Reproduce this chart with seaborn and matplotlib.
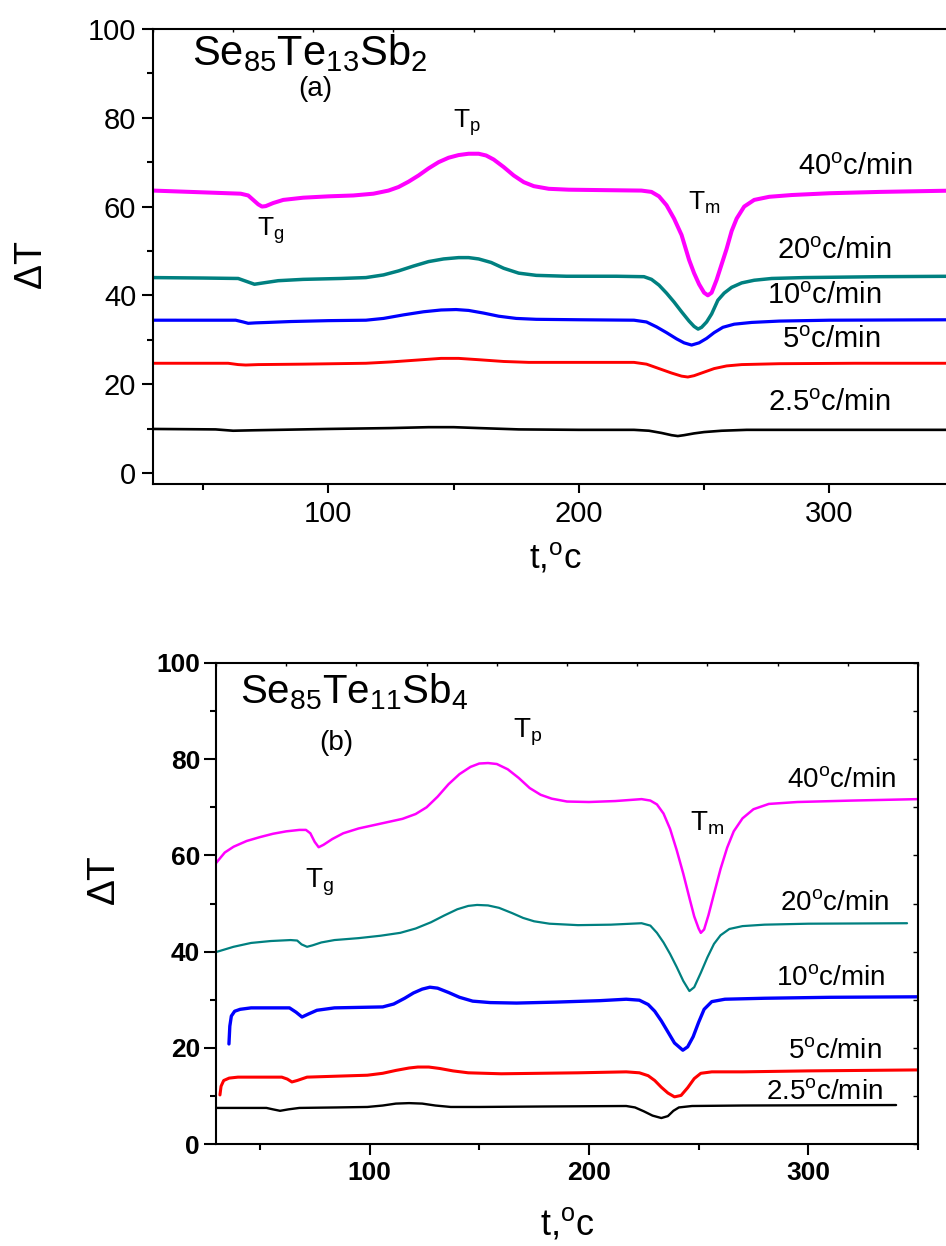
import numpy as np
import pandas as pd
import matplotlib
matplotlib.use("Agg")
import matplotlib.pyplot as plt
import seaborn as sns

# ---------------- data: panel (a) Se85Te13Sb2 ----------------
a40_t = [30, 50, 65, 68, 70, 72, 73.5, 75, 78, 82, 90, 100, 110, 118, 124, 128, 132, 136, 140, 144,
         148, 152, 156, 160, 163, 166, 170, 174, 178, 182, 188, 196, 210, 225, 229, 232, 235, 238, 241, 244,
         246, 248, 250, 251.5, 253, 255, 257, 259, 261, 263, 266, 270, 276, 285, 300, 320, 350]
a40_v = [63.6, 63.2, 62.9, 62.5, 61.5, 60.5, 60.0, 60.1, 60.8, 61.5, 62.0, 62.3, 62.5, 62.9, 63.6, 64.4, 65.6, 67.0, 68.6, 70.0,
         71.0, 71.6, 71.9, 71.9, 71.5, 70.6, 68.9, 67.0, 65.5, 64.6, 64.0, 63.8, 63.7, 63.6, 63.3, 62.3, 60.3, 57.3, 53.6, 48.0,
         45.0, 42.5, 40.6, 40.0, 40.6, 43.5, 47.0, 50.5, 54.5, 57.3, 60.0, 61.5, 62.2, 62.6, 63.0, 63.3, 63.6]
a20_t = [30, 50, 64, 67, 70.5, 74, 80, 90, 105, 115, 122, 128, 134, 140, 146, 152, 156, 160, 165, 170,
         176, 183, 195, 215, 226, 229, 232, 235, 238, 241, 244, 246, 247.6, 249, 251, 253, 255.5, 258, 261, 265,
         270, 277, 290, 320, 350]
a20_v = [44.0, 43.9, 43.8, 43.2, 42.5, 42.8, 43.3, 43.6, 43.8, 44.0, 44.6, 45.5, 46.6, 47.6, 48.2, 48.5, 48.5, 48.2, 47.4, 46.1,
         45.0, 44.5, 44.3, 44.3, 44.2, 43.6, 42.3, 40.5, 38.5, 36.3, 34.2, 33.0, 32.4, 32.8, 34.0, 35.8, 38.9, 40.5, 41.8, 42.8,
         43.4, 43.8, 44.0, 44.2, 44.3]
a10_t = [30, 50, 63, 66, 68, 71, 76, 85, 100, 115, 122, 130, 138, 145, 151, 156, 162, 168, 175, 183,
         200, 222, 227, 231, 235, 239, 242, 245, 248, 251, 254, 257.5, 262, 269, 280, 300, 350]
a10_v = [34.4, 34.4, 34.4, 34.0, 33.7, 33.8, 33.9, 34.1, 34.3, 34.4, 34.8, 35.6, 36.3, 36.7, 36.8, 36.6, 36.0, 35.3, 34.8, 34.6,
         34.5, 34.4, 34.0, 32.9, 31.6, 30.2, 29.3, 28.8, 29.3, 30.3, 31.6, 32.8, 33.5, 33.9, 34.2, 34.4, 34.5]
a5_t = [30, 60, 64, 67, 72, 90, 115, 125, 135, 145, 152, 160, 170, 180, 200, 222, 227, 232, 237, 241,
        243.5, 246, 250, 254, 259, 265, 280, 310, 350]
a5_v = [24.7, 24.7, 24.4, 24.3, 24.4, 24.5, 24.7, 25.0, 25.4, 25.8, 25.8, 25.5, 25.1, 24.9, 24.9, 24.9, 24.5, 23.5, 22.5, 21.8,
        21.6, 21.9, 22.7, 23.5, 24.1, 24.4, 24.6, 24.7, 24.7]
a25_t = [30, 55, 62, 70, 100, 125, 140, 150, 160, 176, 200, 222, 228, 233, 237, 239.5, 242, 246, 250, 257,
         267, 290, 350]
a25_v = [9.9, 9.8, 9.5, 9.6, 9.9, 10.1, 10.3, 10.3, 10.1, 9.8, 9.7, 9.7, 9.5, 9.0, 8.5, 8.3, 8.5, 8.9, 9.2, 9.5,
         9.7, 9.7, 9.7]

# ---------------- data: panel (b) Se85Te11Sb4 ----------------
b40_t = [30, 34, 38, 44, 50, 56, 62, 68, 71, 73, 75, 76.8, 79, 83, 88, 95, 106, 115, 121, 126,
         131, 136, 141, 146, 150, 154, 158, 163, 168, 173, 178, 183, 190, 200, 212, 224, 228, 231, 234, 237,
         240, 243, 246, 248, 250, 251, 252.5, 254.5, 257, 260, 263, 266, 270, 275, 282, 295, 320, 350]
b40_v = [58.4, 60.6, 61.8, 63.0, 63.8, 64.5, 65.0, 65.3, 65.3, 64.6, 62.8, 61.7, 62.2, 63.4, 64.6, 65.6, 66.7, 67.6, 68.6, 70.0,
         72.2, 74.8, 76.9, 78.4, 79.1, 79.2, 79.0, 77.9, 76.1, 74.0, 72.6, 71.8, 71.2, 71.1, 71.3, 71.7, 71.4, 70.6, 68.7, 65.5,
         61.1, 56.2, 50.8, 47.3, 44.8, 43.9, 44.6, 47.6, 52.0, 57.2, 61.6, 65.0, 67.7, 69.6, 70.7, 71.1, 71.4, 71.7]
b20_t = [30, 38, 46, 55, 64, 67, 69, 71.5, 74, 78, 84, 95, 105, 114, 121, 128, 134, 140, 145, 149,
         154, 159, 165, 170, 175, 182, 195, 210, 224, 228, 231, 234, 237, 240, 243, 245.8, 248, 251, 254, 257,
         260, 264, 270, 280, 300, 345]
b20_v = [39.9, 41.0, 41.8, 42.2, 42.4, 42.3, 41.5, 41.0, 41.3, 41.9, 42.4, 42.8, 43.3, 43.9, 44.8, 46.1, 47.5, 48.8, 49.5, 49.7,
         49.6, 49.1, 48.0, 47.0, 46.3, 45.8, 45.5, 45.6, 45.9, 45.4, 43.9, 41.9, 39.5, 36.8, 33.9, 31.8, 32.6, 35.6, 38.8, 41.6,
         43.4, 44.7, 45.3, 45.6, 45.8, 45.9]
b10_t = [35.9, 36.3, 37, 38.5, 41, 46, 55, 63.5, 66.5, 69.2, 72, 76, 84, 95, 106, 111, 116, 120, 124, 127.5,
         131, 136, 141, 147, 155, 167, 185, 205, 217, 223, 227, 230, 233, 236, 239, 242.8, 245, 247.5, 250, 252.5,
         256, 262, 280, 310, 349.5]
b10_v = [20.8, 24.5, 26.6, 27.6, 28.0, 28.3, 28.3, 28.3, 27.4, 26.4, 27.0, 27.8, 28.3, 28.4, 28.5, 29.1, 30.3, 31.4, 32.2, 32.6,
         32.4, 31.5, 30.5, 29.7, 29.4, 29.3, 29.5, 29.8, 30.1, 29.9, 29.0, 27.6, 25.6, 23.3, 21.0, 19.5, 20.2, 22.3, 25.3, 28.0,
         29.6, 30.1, 30.3, 30.5, 30.6]
b5_t = [31.8, 32.3, 33.5, 36, 40, 50, 60, 62.5, 64.6, 67, 71.5, 85, 99, 106, 112, 118, 122, 127, 132, 138,
        145, 160, 195, 217, 223, 227, 230, 233, 236, 239, 242, 245, 248, 251, 256, 270, 300, 349.5]
b5_v = [10.2, 12.0, 13.2, 13.7, 13.9, 13.9, 13.9, 13.5, 12.9, 13.2, 13.9, 14.1, 14.3, 14.7, 15.3, 15.8, 16.0, 16.0, 15.7, 15.2,
        14.8, 14.6, 14.8, 15.0, 14.8, 14.2, 13.2, 11.8, 10.6, 9.8, 10.1, 11.7, 13.6, 14.7, 15.0, 15.0, 15.2, 15.4]
b25_t = [30, 45, 53, 56, 59.2, 63, 68, 85, 99, 106, 112, 118, 124, 130, 137, 150, 180, 217, 221, 225,
         229, 233, 236, 238.5, 241, 247, 270, 340]
b25_v = [7.5, 7.5, 7.5, 7.2, 6.9, 7.2, 7.5, 7.6, 7.7, 8.0, 8.4, 8.5, 8.4, 8.0, 7.7, 7.7, 7.8, 7.9, 7.6, 6.8,
         5.9, 5.4, 5.8, 6.9, 7.6, 7.9, 8.0, 8.1]

rates = ["40", "20", "10", "5", "2.5"]
colors = ["#FF00FF", "#008080", "#0000FF", "#FF0000", "#000000"]
xticks_major = [100, 200, 300]
xticks_minor = [50, 150, 250, 350]
yticks_major = [0, 20, 40, 60, 80, 100]
yticks_minor = [10, 30, 50, 70, 90]

# ---------------- style ----------------
sns.set_style("ticks")
plt.rcParams["font.family"] = ["Liberation Sans", "DejaVu Sans"]
plt.rcParams["mathtext.fontset"] = "custom"
plt.rcParams["mathtext.rm"] = "Liberation Sans"
plt.rcParams["mathtext.it"] = "Liberation Sans:italic"
plt.rcParams["mathtext.bf"] = "Liberation Sans:bold"
plt.rcParams["text.color"] = "black"
plt.rcParams["axes.labelcolor"] = "black"
plt.rcParams["xtick.color"] = "black"
plt.rcParams["ytick.color"] = "black"
plt.rcParams["axes.edgecolor"] = "black"
plt.rcParams["lines.solid_joinstyle"] = "round"

fig = plt.figure(figsize=(9.46, 12.46), dpi=100)


def rate_label(r):
    return r + r"$^{\mathregular{o}}$c/min"


def draw_panel(ax, series, widths):
    for (t, v), c, lw in zip(series, colors, widths):
        df = pd.DataFrame({"t": t, "v": v})
        sns.lineplot(data=df, x="t", y="v", color=c, linewidth=lw, ax=ax,
                     sort=False, estimator=None)
    ax.set_xlim(30, 350)
    ax.set_xticks(xticks_major)
    ax.set_xticks(xticks_minor, minor=True)
    ax.set_yticks(yticks_major)
    ax.set_yticks(yticks_minor, minor=True)
    for s in ax.spines.values():
        s.set_linewidth(1.5)
        s.set_color("black")
    ax.tick_params(which="both", direction="out", width=1.5, color="black",
                   labelcolor="black")


# ---------------- panel (a) ----------------
axa = fig.add_axes([153 / 946, 1 - 484 / 1246, 801.6 / 946, 455 / 1246])
draw_panel(axa,
           [(a40_t, a40_v), (a20_t, a20_v), (a10_t, a10_v), (a5_t, a5_v), (a25_t, a25_v)],
           [2.9, 2.5, 2.3, 2.1, 1.9])
axa.set_ylim(-2.5, 100)
axa.tick_params(axis="x", which="major", length=6.5, pad=5, labelsize=21)
axa.tick_params(axis="y", which="major", length=8, pad=4, labelsize=21)
axa.tick_params(which="minor", length=4.5)
axa.set_xlabel(r"t,$^{\mathregular{o}}$c", fontsize=25)
axa.set_ylabel(r"$\mathregular{\Delta}$T", fontsize=27)
axa.xaxis.set_label_coords(0.502, -0.125)
axa.yaxis.set_label_coords(-0.128, 0.48)
seca = axa.secondary_xaxis("top")
seca.set_xticks(np.linspace(30, 350, 11))
seca.tick_params(direction="in", length=2.5, width=1.0, labeltop=False)
seca.spines["top"].set_visible(False)

axa.text(45.6, 91.9, r"Se$_{\mathregular{85}}$Te$_{\mathregular{13}}$Sb$_{\mathregular{2}}$",
         fontsize=30, ha="left", va="baseline")
axa.text(94.7, 86.5, "(a)", fontsize=20, ha="center", va="center")
axa.text(149.8, 77.8, r"T$_{\mathregular{p}}$", fontsize=19, ha="left", va="baseline")
axa.text(71.5, 53.5, r"T$_{\mathregular{g}}$", fontsize=19, ha="left", va="baseline")
axa.text(243.6, 59.3, r"T$_{\mathregular{m}}$", fontsize=19, ha="left", va="baseline")
a_lab = [(287.5, 67.2), (279.1, 48.1), (275.1, 38.0), (281.1, 28.1), (275.5, 13.9)]
for r, (lx, ly) in zip(rates, a_lab):
    axa.text(lx, ly, rate_label(r), fontsize=21, ha="left", va="baseline")

# ---------------- panel (b) ----------------
axb = fig.add_axes([216 / 946, 1 - 1144 / 1246, 702 / 946, 481 / 1246])
draw_panel(axb,
           [(b40_t, b40_v), (b20_t, b20_v), (b10_t, b10_v), (b5_t, b5_v), (b25_t, b25_v)],
           [1.8, 1.6, 2.4, 2.2, 1.7])
axb.set_ylim(0, 100)
axb.tick_params(axis="x", which="major", length=8, pad=4, labelsize=19)
axb.tick_params(axis="y", which="major", length=8.5, pad=3, labelsize=19)
axb.tick_params(which="minor", length=4.5)
for lab in axb.get_xticklabels() + axb.get_yticklabels():
    lab.set_fontweight("bold")
axb.set_xlabel(r"t,$^{\mathregular{o}}$c", fontsize=26)
axb.set_ylabel(r"$\mathregular{\Delta}$T", fontsize=28)
axb.xaxis.set_label_coords(0.501, -0.13)
axb.yaxis.set_label_coords(-0.133, 0.547)
secbx = axb.secondary_xaxis("top")
secbx.set_xticks(np.linspace(30, 350, 11))
secbx.tick_params(direction="in", length=2.5, width=1.0, labeltop=False)
secbx.spines["top"].set_visible(False)
secby = axb.secondary_yaxis("right")
secby.set_yticks(np.arange(0, 101, 10))
secby.tick_params(direction="in", length=3.5, width=1.0, labelright=False)
secby.spines["right"].set_visible(False)

axb.text(40.9, 91.5, r"Se$_{\mathregular{85}}$Te$_{\mathregular{11}}$Sb$_{\mathregular{4}}$",
         fontsize=29, ha="left", va="baseline")
axb.text(84.7, 83.4, "(b)", fontsize=20, ha="center", va="center")
axb.text(165.3, 84.6, r"T$_{\mathregular{p}}$", fontsize=20, ha="left", va="baseline")
axb.text(70.5, 53.4, r"T$_{\mathregular{g}}$", fontsize=20, ha="left", va="baseline")
axb.text(245.9, 65.1, r"T$_{\mathregular{m}}$", fontsize=20, ha="left", va="baseline")
b_lab = [(290.1, 74.2), (286.9, 48.6), (285.1, 33.1), (290.6, 17.9), (280.6, 9.4)]
for r, (lx, ly) in zip(rates, b_lab):
    axb.text(lx, ly, rate_label(r), fontsize=20, ha="left", va="baseline")

fig.savefig("out.png", dpi=100)
